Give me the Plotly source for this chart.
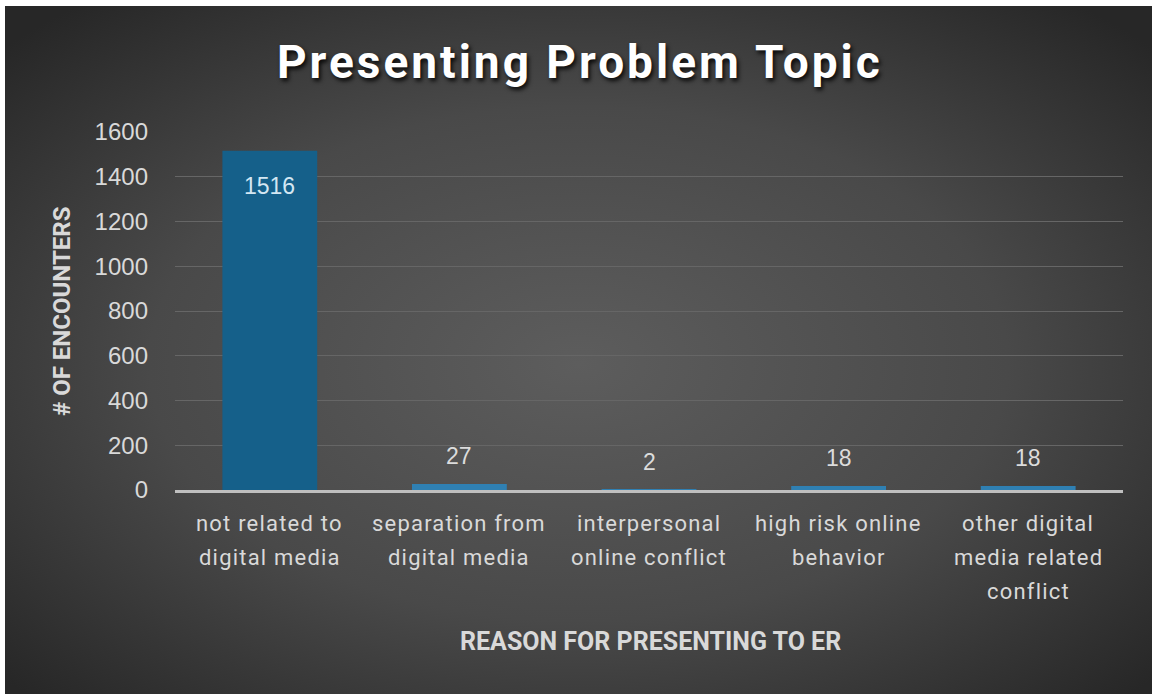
import base64
import plotly.graph_objects as go

# Chart data
categories = [
    "not related to digital media",
    "separation from digital media",
    "interpersonal online conflict",
    "high risk online behavior",
    "other digital media related conflict",
]
tick_lines = [
    ["not related to", "digital media"],
    ["separation from", "digital media"],
    ["interpersonal", "online conflict"],
    ["high risk online", "behavior"],
    ["other digital", "media related", "conflict"],
]
encounters = [1516, 27, 2, 18, 18]
y_ticks = [0, 200, 400, 600, 800, 1000, 1200, 1400, 1600]

W, H = 1155, 694
L, R, T, B = 175, 32, 132, 204
PW, PH = W - L - R, H - T - B

bar_colors = ["#15608a"] + ["#2f80b3"] * (len(encounters) - 1)

fig = go.Figure(
    go.Bar(
        x=categories,
        y=encounters,
        marker=dict(color=bar_colors, line=dict(width=0)),
        width=0.5,
        hoverinfo="x+y",
    )
)

# Value labels: inside the top of the tall bar, above the short ones
annotations = []
for cat, v in zip(categories, encounters):
    if v > 800:
        annotations.append(dict(
            x=cat, y=v, xref="x", yref="y", text=str(v), showarrow=False,
            yanchor="top", yshift=-20,
            font=dict(family="Liberation Sans, Arial", size=23, color="#d3e7f3"),
        ))
    else:
        annotations.append(dict(
            x=cat, y=v, xref="x", yref="y", text=str(v), showarrow=False,
            yanchor="bottom", yshift=13,
            font=dict(family="Liberation Sans, Arial", size=23, color="#dcdcdc"),
        ))

# Category labels, one line per annotation for wider line spacing
for cat, lines in zip(categories, tick_lines):
    for i, line in enumerate(lines):
        annotations.append(dict(
            x=cat, y=0, xref="x", yref="y",
            text=f"<span style='letter-spacing:1.2px'>{line}</span>",
            showarrow=False, yanchor="middle", yshift=-(33 + 34 * i),
            font=dict(family="Roboto, sans-serif", size=22, color="#d9d9d9"),
        ))

# Axis titles
annotations.append(dict(
    x=(62 - L) / PW, y=(490 - 312) / PH, xref="paper", yref="paper",
    text="<b># OF ENCOUNTERS</b>", showarrow=False, textangle=-90,
    xanchor="center", yanchor="middle",
    font=dict(family="Roboto, sans-serif", size=24, color="#d9d9d9"),
))
annotations.append(dict(
    x=(650 - L) / PW, y=(490 - 641) / PH, xref="paper", yref="paper",
    text="<b>REASON FOR PRESENTING TO ER</b>", showarrow=False,
    xanchor="center", yanchor="middle",
    font=dict(family="Roboto, sans-serif", size=25, color="#d9d9d9"),
))

# Radial grey backdrop as an SVG image
svg = f"""<svg xmlns='http://www.w3.org/2000/svg' width='{W}' height='{H}' viewBox='0 0 {W} {H}' preserveAspectRatio='none'>
<defs><radialGradient id='g' cx='50%' cy='52%' r='68%'>
<stop offset='0%' stop-color='#5d5d5d'/>
<stop offset='55%' stop-color='#494949'/>
<stop offset='100%' stop-color='#272727'/>
</radialGradient></defs>
<rect width='{W}' height='{H}' fill='url(#g)'/></svg>"""
bg_src = "data:image/svg+xml;base64," + base64.b64encode(svg.encode()).decode()

x0_px, y0_px = 5, 6
fig.add_layout_image(dict(
    source=bg_src, xref="paper", yref="paper",
    x=(x0_px - L) / PW, y=(490 - y0_px) / PH,
    sizex=(W - 3 - x0_px) / PW, sizey=(H - y0_px) / PH,
    xanchor="left", yanchor="top", sizing="stretch", layer="below",
))

fig.update_layout(
    width=W, height=H, autosize=False,
    margin=dict(l=L, r=R, t=T, b=B, pad=0),
    paper_bgcolor="#ffffff",
    plot_bgcolor="rgba(0,0,0,0)",
    showlegend=False,
    title=dict(
        text="<b><span style='letter-spacing:3px'>Presenting Problem Topic</span></b>",
        x=0.502, xref="container", xanchor="center",
        y=1 - 62 / H, yref="container", yanchor="middle",
        font=dict(family="Roboto, sans-serif", size=46, color="#ffffff",
                  shadow="2px 3px 4px rgba(0,0,0,0.85)"),
    ),
    annotations=annotations,
    bargap=0.5,
)

fig.update_xaxes(
    showticklabels=False, showgrid=False, zeroline=False,
    showline=True, linecolor="#bfbfbf", linewidth=3, ticks="",
)
fig.update_yaxes(
    range=[0, 1600], tickvals=y_ticks, ticktext=[str(t) for t in y_ticks],
    showgrid=True, gridcolor="#666666", gridwidth=1,
    zeroline=False, showline=False, ticks="",
    ticklabelstandoff=26,
    tickfont=dict(family="Liberation Sans, Arial", size=24, color="#d9d9d9"),
)

fig.write_html("out.html")
